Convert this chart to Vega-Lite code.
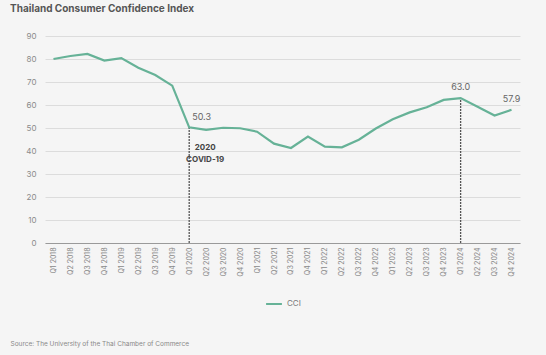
{
  "$schema": "https://vega.github.io/schema/vega-lite/v6.json",
  "width": 475,
  "height": 207,
  "autosize": {"type": "none"},
  "padding": {"left": 45, "top": 36, "right": 26, "bottom": 112},
  "background": "#f5f5f5",
  "config": {
    "font": "Inter",
    "view": {"stroke": null}
  },
  "title": {
    "text": "Thailand Consumer Confidence Index",
    "anchor": "start",
    "frame": "group",
    "dx": -35,
    "offset": 18,
    "fontSize": 10,
    "fontWeight": "bold",
    "color": "#555555"
  },
  "data": {
    "values": [
      {"q": "Q1 2018", "cci": 80.0},
      {"q": "Q2 2018", "cci": 81.3},
      {"q": "Q3 2018", "cci": 82.2},
      {"q": "Q4 2018", "cci": 79.3},
      {"q": "Q1 2019", "cci": 80.4},
      {"q": "Q2 2019", "cci": 76.2},
      {"q": "Q3 2019", "cci": 73.0},
      {"q": "Q4 2019", "cci": 68.4},
      {"q": "Q1 2020", "cci": 50.3, "lab": "50.3", "rule": true, "event": ["2020", "COVID-19"]},
      {"q": "Q2 2020", "cci": 49.2},
      {"q": "Q3 2020", "cci": 50.1},
      {"q": "Q4 2020", "cci": 49.9},
      {"q": "Q1 2021", "cci": 48.4},
      {"q": "Q2 2021", "cci": 43.2},
      {"q": "Q3 2021", "cci": 41.3},
      {"q": "Q4 2021", "cci": 46.3},
      {"q": "Q1 2022", "cci": 41.9},
      {"q": "Q2 2022", "cci": 41.6},
      {"q": "Q3 2022", "cci": 44.9},
      {"q": "Q4 2022", "cci": 49.8},
      {"q": "Q1 2023", "cci": 53.8},
      {"q": "Q2 2023", "cci": 56.8},
      {"q": "Q3 2023", "cci": 59.0},
      {"q": "Q4 2023", "cci": 62.2},
      {"q": "Q1 2024", "cci": 63.0, "lab": "63.0", "rule": true},
      {"q": "Q2 2024", "cci": 59.2},
      {"q": "Q3 2024", "cci": 55.4},
      {"q": "Q4 2024", "cci": 57.9, "lab": "57.9"}
    ]
  },
  "encoding": {
    "x": {
      "field": "q",
      "type": "ordinal",
      "sort": ["Q1 2018","Q2 2018","Q3 2018","Q4 2018","Q1 2019","Q2 2019","Q3 2019","Q4 2019","Q1 2020","Q2 2020","Q3 2020","Q4 2020","Q1 2021","Q2 2021","Q3 2021","Q4 2021","Q1 2022","Q2 2022","Q3 2022","Q4 2022","Q1 2023","Q2 2023","Q3 2023","Q4 2023","Q1 2024","Q2 2024","Q3 2024","Q4 2024"],
      "scale": {"type": "point", "padding": 0.5},
      "axis": {
        "title": "Source: The University of the Thai Chamber of Commerce",
        "titleAnchor": "start",
        "titleAlign": "left",
        "titleBaseline": "middle",
        "titleX": -35,
        "titleY": 100,
        "titleFontSize": 6.5,
        "titleFontWeight": "normal",
        "titleColor": "#888888",
        "labelAngle": 270,
        "labelFontSize": 7,
        "labelColor": "#8a8a8a",
        "labelPadding": 4,
        "ticks": false,
        "domainColor": "#9a9a9a",
        "grid": false
      }
    },
    "y": {
      "field": "cci",
      "type": "quantitative",
      "scale": {"domain": [0, 90], "nice": false},
      "axis": {
        "title": null,
        "values": [0, 10, 20, 30, 40, 50, 60, 70, 80, 90],
        "labelFontSize": 8,
        "labelColor": "#8a8a8a",
        "labelPadding": 9,
        "ticks": false,
        "domain": false,
        "gridColor": "#dcdcdc",
        "gridWidth": 1
      }
    }
  },
  "layer": [
    {
      "transform": [{"filter": "datum.rule === true"}],
      "mark": {"type": "rule", "color": "#555555", "strokeWidth": 1.3, "strokeDash": [2, 1]},
      "encoding": {
        "y": {"datum": 0},
        "y2": {"field": "cci"}
      }
    },
    {
      "mark": {"type": "line", "strokeWidth": 2.2, "interpolate": "linear"},
      "encoding": {
        "color": {
          "datum": "CCI",
          "scale": {"range": ["#66b297"]},
          "legend": {
            "title": null,
            "orient": "none",
            "legendX": 220,
            "legendY": 259,
            "symbolType": "stroke",
            "symbolStrokeWidth": 2,
            "symbolSize": 250,
            "labelFontSize": 8,
            "labelColor": "#777777"
          }
        }
      }
    },
    {
      "transform": [{"filter": "datum.lab != null && datum.q == 'Q1 2020'"}],
      "mark": {"type": "text", "align": "left", "baseline": "bottom", "dx": 3, "dy": -5, "fontSize": 9, "color": "#666666"},
      "encoding": {"text": {"field": "lab"}}
    },
    {
      "transform": [{"filter": "datum.lab != null && datum.q != 'Q1 2020'"}],
      "mark": {"type": "text", "align": "center", "baseline": "bottom", "dy": -6, "fontSize": 9, "color": "#666666"},
      "encoding": {"text": {"field": "lab"}}
    },
    {
      "transform": [{"filter": "datum.event != null"}],
      "mark": {"type": "text", "align": "center", "baseline": "top", "dx": 16, "dy": 17, "fontSize": 8, "fontWeight": "bold", "color": "#444444", "lineHeight": 12},
      "encoding": {"text": {"field": "event"}}
    }
  ]
}
